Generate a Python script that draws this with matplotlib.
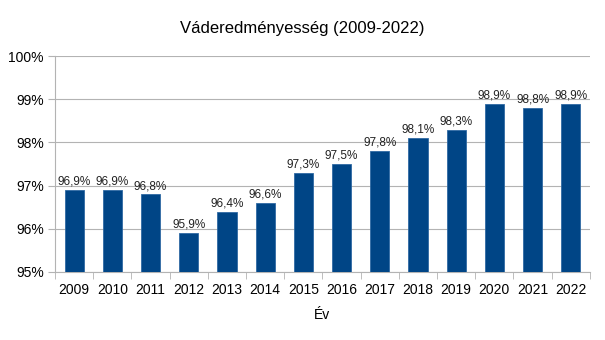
import numpy as np
import matplotlib.pyplot as plt
from matplotlib.ticker import FixedLocator

years = ["2009", "2010", "2011", "2012", "2013", "2014", "2015",
         "2016", "2017", "2018", "2019", "2020", "2021", "2022"]
values = [96.9, 96.9, 96.8, 95.9, 96.4, 96.6, 97.3,
          97.5, 97.8, 98.1, 98.3, 98.9, 98.8, 98.9]
y_ticks = [95, 96, 97, 98, 99, 100]

plt.rcParams["font.family"] = ["Liberation Sans", "DejaVu Sans"]

fig = plt.figure(figsize=(6.05, 3.4), dpi=100)
ax = fig.add_axes([0.091, 0.2, 0.884, 0.635])

x = np.arange(len(years))
base = y_ticks[0]
ax.bar(x, np.array(values) - base, bottom=base, width=0.5,
       color="#004586", edgecolor="#2f6aa3", linewidth=0.6, zorder=3)

for xi, v in zip(x, values):
    ax.text(xi, v + 0.05, f"{v:.1f}%".replace(".", ","), ha="center",
            va="bottom", fontsize=8.5, color="#222222", zorder=4)

ax.set_xlim(-0.5, len(years) - 0.5)
ax.set_ylim(95, 100)
ax.set_yticks(y_ticks)
ax.set_yticklabels([f"{t}%" for t in y_ticks], fontsize=10)
ax.set_xticks(x)
ax.set_xticklabels(years, fontsize=10)
ax.tick_params(axis="x", which="major", length=0, pad=8)
ax.xaxis.set_minor_locator(FixedLocator(np.arange(-0.5, len(years), 1.0)))
ax.tick_params(axis="x", which="minor", length=5, color="#b3b3b3", direction="out")
ax.tick_params(axis="y", length=5, color="#b3b3b3", direction="out", pad=3)

ax.grid(axis="y", color="#b3b3b3", linewidth=0.8, zorder=0)
for side in ["top", "right"]:
    ax.spines[side].set_visible(False)
for side in ["left", "bottom"]:
    ax.spines[side].set_color("#b3b3b3")

ax.set_xlabel("Év", fontsize=10, labelpad=8)
fig.text(0.5, 0.915, "Váderedményesség (2009-2022)", ha="center", va="center",
         fontsize=12)

fig.savefig("out.png", dpi=100)
